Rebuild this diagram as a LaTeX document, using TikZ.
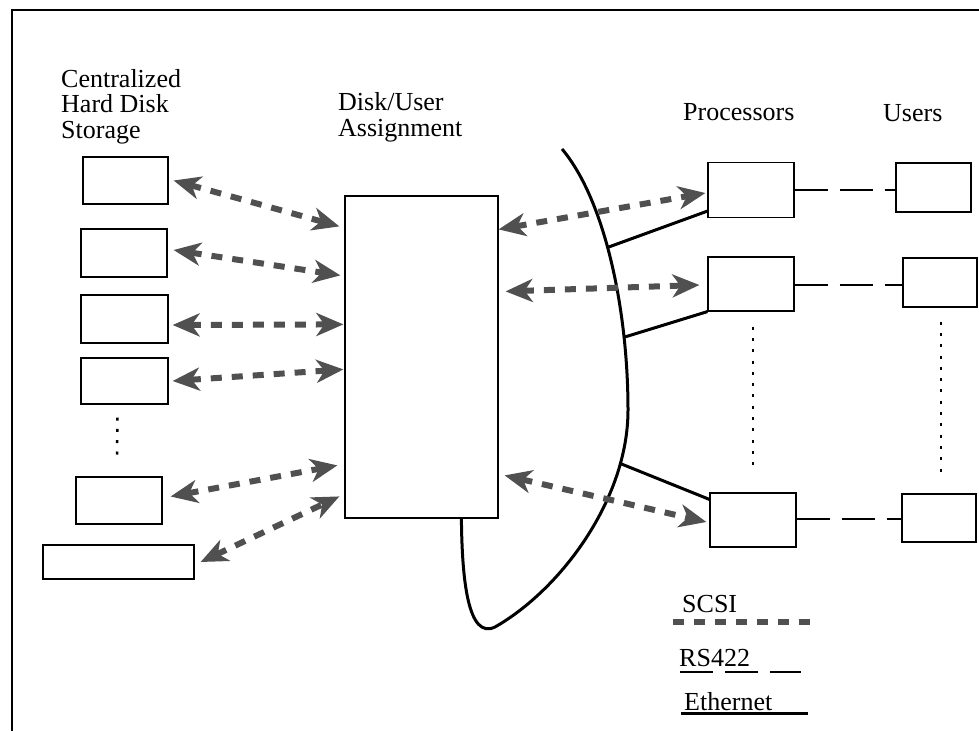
\documentclass[tikz,border=0pt]{standalone}
\usepackage{fontspec}
\setmainfont{Liberation Serif}
\usetikzlibrary{arrows.meta}
\definecolor{scsigray}{HTML}{505050}

\begin{document}
\begin{tikzpicture}[x=1pt, y=-1pt,
  box/.style={draw, line width=1.2pt, inner sep=0pt},
  lbl/.style={inner sep=0pt, anchor=base west, align=left, font=\fontsize{26}{25.5}\selectfont},
  >={Stealth[length=27pt, width=23pt, inset=8pt]},
  scsiline/.style={draw=scsigray, line width=6pt, dash pattern=on 11pt off 10pt},
  scsi/.style={scsiline, <->},
  rsline/.style={line width=1.2pt, dash pattern=on 33pt off 12pt},
  eth/.style={line width=3pt},
  dotline/.style={line width=2.5pt, dash pattern=on 3pt off 8.3pt}
]
\useasboundingbox (0,0) rectangle (979,731);
\draw[line width=2.5pt] (979,10) -- (12,10) -- (12,731);

% titles
\node[lbl] (storlbl) at (61,138) {Centralized\\Hard Disk\\Storage};
\node[lbl] (asslbl) at (338,136) {Disk/User\\Assignment};
\node[lbl] (proclbl) at (683,120) {Processors};
\node[lbl] (userlbl) at (883,121) {Users};

% disks
\node[box, minimum width=85pt, minimum height=47pt] (disk1) at (125.5,180.5) {};
\node[box, minimum width=86pt, minimum height=48pt] (disk2) at (124,253) {};
\node[box, minimum width=87pt, minimum height=48pt] (disk3) at (124.5,319) {};
\node[box, minimum width=87pt, minimum height=46pt] (disk4) at (124.5,381) {};
\node[box, minimum width=86pt, minimum height=47pt] (disk5) at (119,500.5) {};
\node[box, minimum width=151pt, minimum height=34pt] (disk6) at (118.5,562) {};
\draw[dotline] ([xshift=-7pt,yshift=-13pt]disk4.south) -- ([xshift=-2pt,yshift=14pt]disk5.north);

\node[box, minimum width=153pt, minimum height=322pt] (assign) at (421.5,357) {};

% processors and users
\node[box, minimum width=86pt, minimum height=55pt] (proc1) at (751,190) {};
\node[box, minimum width=86pt, minimum height=54pt] (proc2) at (751,284) {};
\node[box, minimum width=86pt, minimum height=54pt] (proc3) at (753,520) {};
\node[box, minimum width=75pt, minimum height=49pt] (user1) at (933.5,187.5) {};
\node[box, minimum width=74pt, minimum height=49pt] (user2) at (940,282.5) {};
\node[box, minimum width=74pt, minimum height=48pt] (user3) at (939,518) {};
\draw[dotline] ([xshift=2pt,yshift=-15pt]proc2.south) -- ([yshift=22pt]proc3.north);
\draw[dotline] ([xshift=1pt,yshift=-14pt]user2.south) -- ([xshift=2pt,yshift=16pt]user3.north);

% RS422
\draw[rsline] (proc1.east) -- (proc1.east -| user1.west);
\draw[rsline] ([yshift=-1pt]proc2.east) -- ([yshift=-1pt]proc2.east -| user2.west);
\draw[rsline] ([yshift=1pt]proc3.east) -- ([yshift=1pt]proc3.east -| user3.west);

% Ethernet bus
\draw[eth] (562,149) .. controls (605,200) and (628,310) .. (628,410)
    coordinate[pos=0.45] (e1) coordinate[pos=0.76] (e2)
  .. controls (628,500) and (560,590) .. (495,627) coordinate[pos=0.2] (e3)
  .. controls (468,640) and (462,580) .. ([xshift=117pt]assign.south west);
\draw[eth] (e1) -- ([yshift=7pt]proc1.south west);
\draw[eth] (e2) -- (proc2.south west);
\draw[eth] (e3) -- ([yshift=-7pt]proc3.north west);

% SCSI
\draw[scsi] ([xshift=5pt]disk1.east) -- ([xshift=-5pt,yshift=-31pt]assign.north west);
\draw[scsi] ([xshift=6pt,yshift=3pt]disk2.east) -- ([xshift=-4pt,yshift=-80pt]assign.north west);
\draw[scsi] ([xshift=4pt,yshift=-6pt]disk3.east) -- ([xshift=-1pt,yshift=-129pt]assign.north west);
\draw[scsi] ([xshift=4pt]disk4.east) -- ([xshift=-1pt,yshift=-174pt]assign.north west);
\draw[scsi] ([xshift=8pt,yshift=4pt]disk5.east) -- ([xshift=-7pt,yshift=-270pt]assign.north west);
\draw[scsi] ([xshift=6pt]disk6.east) -- ([xshift=-5pt,yshift=-301pt]assign.north west);
\draw[scsi] ([yshift=-34pt]assign.north east) -- ([xshift=-2pt,yshift=-3pt]proc1.west);
\draw[scsi] ([xshift=7pt,yshift=-96pt]assign.north east) -- ([xshift=-8pt,yshift=-1pt]proc2.west);
\draw[scsi] ([xshift=6pt,yshift=-280pt]assign.north east) -- ([xshift=-3pt,yshift=-2pt]proc3.west);

% legend
\node[lbl] (scsilbl) at (682,612) {SCSI};
\node[lbl] (rslbl) at (679,666) {RS422};
\node[lbl] (ethlbl) at (684,710) {Ethernet};
\draw[scsiline] ([xshift=-9pt,yshift=-10pt]scsilbl.base west) -- ++(142,0);
\draw[rsline] ([xshift=1pt,yshift=-6pt]rslbl.base west) -- ++(121,0);
\draw[eth] ([xshift=-3pt,yshift=-3pt]ethlbl.base west) -- ++(127,0);
\end{tikzpicture}
\end{document}
